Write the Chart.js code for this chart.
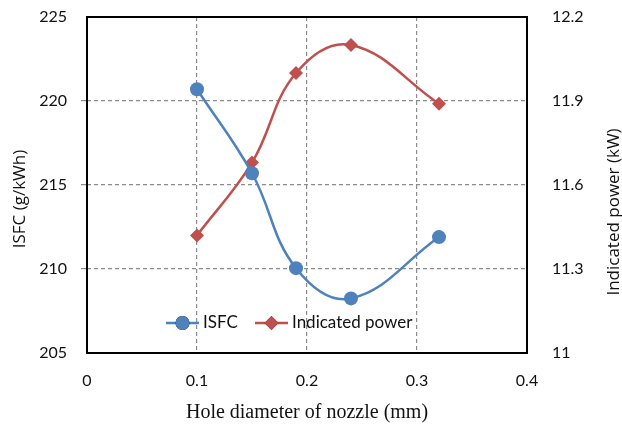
<!DOCTYPE html>
<html>
<head>
<meta charset="utf-8">
<script src="https://cdn.jsdelivr.net/npm/chart.js@4.4.1/dist/chart.umd.min.js"></script>
<style>
  html, body { margin: 0; padding: 0; background: #fff; }
  #wrap { width: 622px; height: 432px; position: relative; }
</style>
</head>
<body>
<div id="wrap"><canvas id="nozzleChart"></canvas></div>
<script>
// hole diameter (mm) vs ISFC and indicated power
const holeDiameter = [0.1, 0.15, 0.19, 0.24, 0.32];
const isfc = [220.7, 215.7, 210.05, 208.25, 211.9];
const indicatedPower = [11.42, 11.68, 12.0, 12.1, 11.89];

const xTicks = [0, 0.1, 0.2, 0.3, 0.4];
const isfcTicks = [205, 210, 215, 220, 225];
const powerTicks = [11, 11.3, 11.6, 11.9, 12.2];

const BLUE = '#4F81BD';
const RED = '#C0504D';
const tickFont = { family: 'Lato, "Open Sans", sans-serif', size: 16 };
const titleFont = '17px "Open Sans", sans-serif';

const toPoints = (ys) => holeDiameter.map((x, i) => ({ x, y: ys[i] }));

// fixed side width, and no extra top/bottom room for the end labels
const fixWidth = (w) => (s) => {
  s.width = w;
  s.paddingTop = 0;
  s.paddingBottom = 0;
};

// black frame round the plot area
const frame = {
  id: 'frame',
  beforeDatasetsDraw(chart) {
    const { ctx, chartArea: a } = chart;
    ctx.save();
    ctx.strokeStyle = '#000';
    ctx.lineWidth = 2;
    ctx.strokeRect(a.left, a.top, a.right - a.left, a.bottom - a.top);
    ctx.restore();
  }
};

// both value-axis titles read bottom-to-top
const sideTitles = {
  id: 'sideTitles',
  afterDraw(chart) {
    const { ctx } = chart;
    const titles = [
      { text: 'ISFC (g/kWh)', x: 20, y: 199 },
      { text: 'Indicated power (kW)', x: 614, y: 212 }
    ];
    ctx.save();
    ctx.font = titleFont;
    ctx.fillStyle = '#111';
    ctx.textAlign = 'center';
    ctx.textBaseline = 'middle';
    titles.forEach(t => {
      ctx.save();
      ctx.translate(t.x, t.y);
      ctx.rotate(-Math.PI / 2);
      ctx.fillText(t.text, 0, 0);
      ctx.restore();
    });
    ctx.restore();
  }
};

// Excel-style legend (line + marker) sitting inside the plot
const innerLegend = {
  id: 'innerLegend',
  afterDatasetsDraw(chart) {
    const { ctx } = chart;
    const y = 323;
    const items = [{ x: 166, ds: chart.data.datasets[0] }, { x: 255, ds: chart.data.datasets[1] }];
    ctx.save();
    ctx.font = '17px Lato, "Open Sans", sans-serif';
    ctx.textBaseline = 'middle';
    items.forEach(({ x, ds }) => {
      ctx.strokeStyle = ds.borderColor;
      ctx.lineWidth = 2.5;
      ctx.beginPath();
      ctx.moveTo(x, y);
      ctx.lineTo(x + 33, y);
      ctx.stroke();
      Chart.helpers.drawPoint(ctx, {
        pointStyle: ds.pointStyle,
        radius: ds.pointRadius,
        borderWidth: 0
      }, x + 16.5, y);
      ctx.fillStyle = ds.backgroundColor;
      ctx.fill();
      ctx.fillStyle = '#111';
      ctx.fillText(ds.label, x + 37, y);
    });
    ctx.restore();
  }
};

new Chart(document.getElementById('nozzleChart'), {
  type: 'line',
  data: {
    datasets: [
      {
        label: 'ISFC',
        data: toPoints(isfc),
        yAxisID: 'y',
        borderColor: BLUE,
        backgroundColor: BLUE,
        borderWidth: 2.5,
        pointStyle: 'circle',
        pointRadius: 7,
        pointBorderWidth: 0,
        tension: 0.4
      },
      {
        label: 'Indicated power',
        data: toPoints(indicatedPower),
        yAxisID: 'y1',
        borderColor: RED,
        backgroundColor: RED,
        borderWidth: 2.5,
        pointStyle: 'rectRot',
        pointRadius: 7,
        pointBorderWidth: 0,
        tension: 0.4
      }
    ]
  },
  options: {
    responsive: true,
    maintainAspectRatio: false,
    animation: false,
    layout: { padding: { top: 17 } },
    plugins: {
      legend: { display: false },
      tooltip: { enabled: false }
    },
    scales: {
      x: {
        type: 'linear',
        min: 0,
        max: 0.4,
        afterFit: (s) => { s.height = 79; },
        afterBuildTicks: (s) => { s.ticks = xTicks.map(v => ({ value: v })); },
        border: { display: false, dash: [4, 3] },
        grid: {
          color: (c) => (c.tick && c.tick.value > 0 && c.tick.value < 0.4) ? '#8c8c8c' : 'rgba(0,0,0,0)',
          lineWidth: 1.2,
          drawTicks: false
        },
        ticks: { color: '#111', font: tickFont, padding: 18, maxRotation: 0, callback: (v) => String(v) },
        title: {
          display: true,
          text: 'Hole diameter of nozzle (mm)',
          color: '#111',
          font: { family: '"Liberation Serif", "Times New Roman", serif', size: 20 },
          padding: { top: 4, bottom: 7 }
        }
      },
      y: {
        position: 'left',
        min: 205,
        max: 225,
        afterFit: fixWidth(87),
        afterBuildTicks: (s) => { s.ticks = isfcTicks.map(v => ({ value: v })); },
        border: { display: false, dash: [4, 3] },
        grid: {
          color: (c) => (c.tick && c.tick.value > 205 && c.tick.value < 225) ? '#8c8c8c' : 'rgba(0,0,0,0)',
          lineWidth: 1.2,
          tickLength: 6
        },
        ticks: { color: '#111', font: tickFont, padding: 14 }
      },
      y1: {
        position: 'right',
        min: 11,
        max: 12.2,
        afterFit: fixWidth(95),
        afterBuildTicks: (s) => { s.ticks = powerTicks.map(v => ({ value: v })); },
        border: { display: false },
        grid: { display: false, drawOnChartArea: false },
        ticks: { color: '#111', font: tickFont, padding: 17, callback: (v) => String(+v.toFixed(1)) }
      }
    }
  },
  plugins: [frame, sideTitles, innerLegend]
});
</script>
</body>
</html>
